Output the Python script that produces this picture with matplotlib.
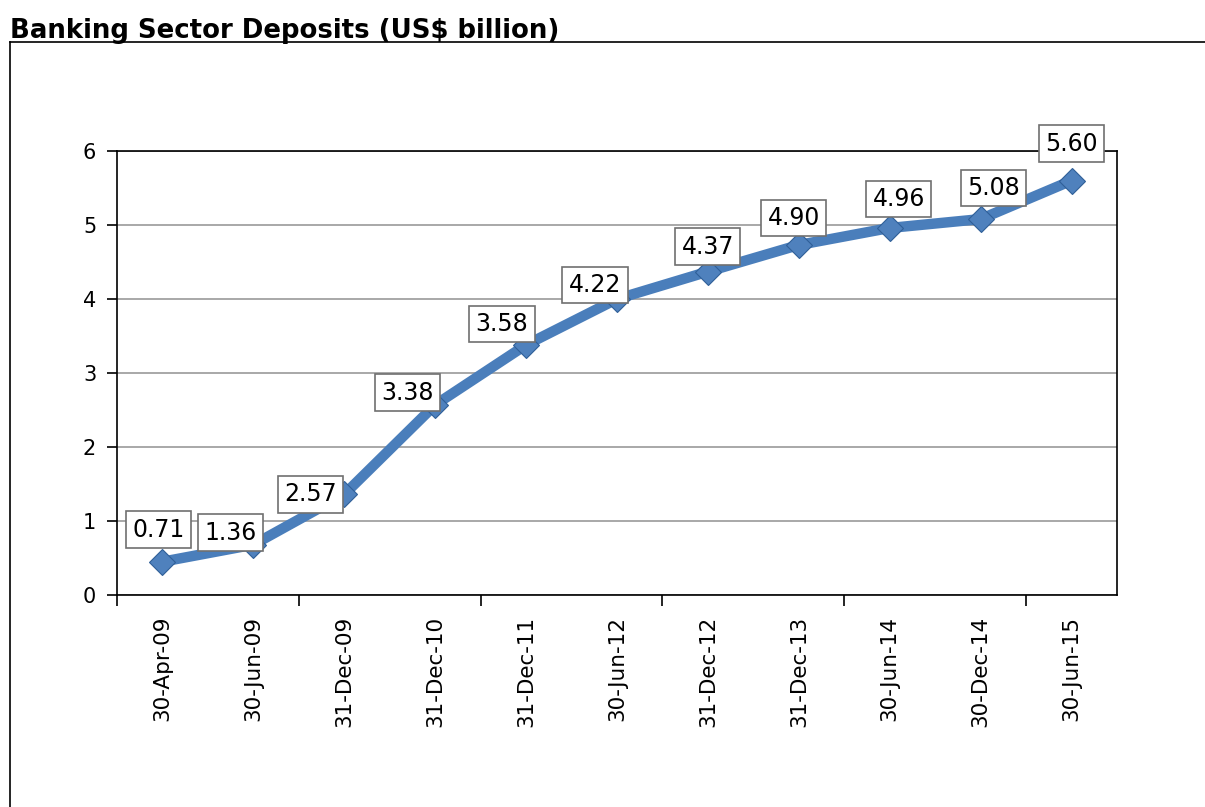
import matplotlib.pyplot as plt

dates = ['30-Apr-09', '30-Jun-09', '31-Dec-09', '31-Dec-10', '31-Dec-11', '30-Jun-12',
         '31-Dec-12', '31-Dec-13', '30-Jun-14', '30-Dec-14', '30-Jun-15']
# plotted values (as drawn in the source chart)
deposits = [0.45, 0.68, 1.36, 2.57, 3.38, 4.00, 4.37, 4.73, 4.96, 5.08, 5.60]
# data label texts (as printed in the source chart)
label_texts = ['0.71', '1.36', '2.57', '3.38', '3.58', '4.22', '4.37', '4.90', '4.96', '5.08', '5.60']

# label offsets in pixels (dx, dy) from each point
label_offsets = [(-4, 32), (-23, 12), (-34, 0), (-28, 12), (-24, 21), (-22, 14),
                 (0, 25), (-5, 27), (9, 29), (13, 31), (0, 37)]

fig = plt.figure(figsize=(12.05, 8.07), dpi=100)
fig.patch.set_facecolor('white')

fig.text(10 / 1205, 1 - 38 / 807, 'Banking Sector Deposits (US$ billion)',
         fontsize=18.7, fontweight='bold', ha='left', va='baseline')

# outer frame (top and left edges)
fig.add_artist(plt.Line2D([10 / 1205, 1.0], [1 - 42 / 807, 1 - 42 / 807],
                          color='black', lw=1.2, transform=fig.transFigure))
fig.add_artist(plt.Line2D([10 / 1205, 10 / 1205], [1 - 42 / 807, 0],
                          color='black', lw=1.2, transform=fig.transFigure))

ax = fig.add_axes([117 / 1205, 1 - 595 / 807, 1000 / 1205, 444 / 807])
x = list(range(len(dates)))

ax.plot(x, deposits, color='#4A7EBB', lw=7.5, solid_joinstyle='round', zorder=2)
ax.plot(x, deposits, linestyle='none', marker='D', markersize=13,
        markerfacecolor='#4F81BD', markeredgecolor='#2F5F98', markeredgewidth=0.8, zorder=3)

for xi, yi, txt, (dx, dy) in zip(x, deposits, label_texts, label_offsets):
    ax.annotate(txt, (xi, yi), xytext=(dx, dy), textcoords='offset pixels',
                ha='center', va='center', fontsize=17, zorder=5, annotation_clip=False,
                bbox=dict(boxstyle='square,pad=0.27', facecolor='white', edgecolor='#707070', lw=1.2))

ax.set_xlim(-0.5, len(dates) - 0.5)
ax.set_ylim(0, 6)
ax.set_yticks(range(0, 7))
ax.yaxis.grid(True, color='#9a9a9a', lw=1.2)
ax.set_axisbelow(True)

ax.set_xticks(x)
ax.set_xticklabels(dates, rotation=90, fontsize=15.5)
ax.set_xticks([i - 0.5 for i in range(0, len(dates), 2)], minor=True)
ax.tick_params(axis='x', which='major', length=0, pad=15)
ax.tick_params(axis='x', which='minor', length=8, width=1.2, direction='out')
ax.tick_params(axis='y', labelsize=15, length=7, width=1.2, direction='out', pad=8)

for s in ax.spines.values():
    s.set_color('black')
    s.set_linewidth(1.2)

fig.savefig('out.png', dpi=100)
